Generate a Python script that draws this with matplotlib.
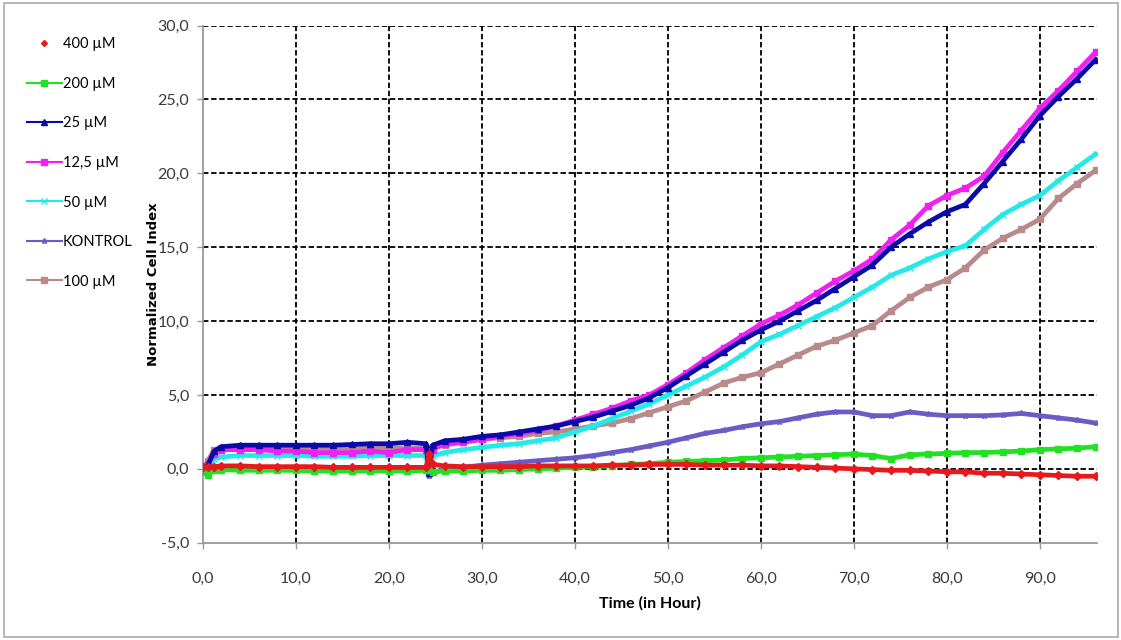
import numpy as np
import matplotlib
matplotlib.use("Agg")
import matplotlib.pyplot as plt
from matplotlib.lines import Line2D
from matplotlib.patches import Rectangle
from matplotlib.ticker import FuncFormatter

plt.rcParams['font.family'] = ['Lato', 'DejaVu Sans']

# time points (hours)
hours = [0, 0.5, 1.2, 2, 4, 6, 8, 10, 12, 14, 16, 18, 20, 22, 24, 24.3, 24.7,
         26, 28, 30, 32, 34, 36, 38, 40, 42, 44, 46, 48, 50, 52, 54, 56, 58, 60,
         62, 64, 66, 68, 70, 72, 74, 76, 78, 80, 82, 84, 86, 88, 90, 92, 94, 96]

uM400 = [0.1, 0.1, 0.15, 0.2, 0.2, 0.15, 0.15, 0.15, 0.15, 0.1, 0.1, 0.1, 0.1, 0.1, 0.1, 1.0, 0.3,
         0.2, 0.15, 0.15, 0.15, 0.15, 0.2, 0.2, 0.2, 0.2, 0.25, 0.25, 0.3, 0.3, 0.3, 0.25, 0.25, 0.25, 0.2,
         0.2, 0.15, 0.1, 0.05, 0.0, -0.05, -0.1, -0.1, -0.15, -0.2, -0.2, -0.3, -0.3, -0.35, -0.4, -0.45, -0.5, -0.5]
uM200 = [0.0, -0.4, -0.1, -0.05, -0.1, -0.1, -0.1, -0.1, -0.15, -0.15, -0.15, -0.15, -0.15, -0.15, -0.1, -0.1, -0.2,
         -0.15, -0.15, -0.1, -0.1, -0.05, 0.0, 0.05, 0.1, 0.15, 0.2, 0.3, 0.35, 0.45, 0.5, 0.55, 0.6, 0.7, 0.75,
         0.8, 0.85, 0.9, 0.95, 1.0, 0.9, 0.7, 0.95, 1.0, 1.05, 1.1, 1.1, 1.15, 1.2, 1.3, 1.35, 1.4, 1.5]
uM25 = [0.0, 0.2, 1.2, 1.5, 1.6, 1.6, 1.6, 1.6, 1.6, 1.6, 1.65, 1.7, 1.7, 1.8, 1.7, -0.3, 1.6,
        1.9, 2.0, 2.2, 2.3, 2.5, 2.7, 2.9, 3.2, 3.5, 3.9, 4.3, 4.8, 5.5, 6.3, 7.1, 7.9, 8.7, 9.4,
        10.0, 10.7, 11.4, 12.2, 13.0, 13.8, 15.0, 15.9, 16.7, 17.4, 17.9, 19.3, 20.8, 22.3, 23.9, 25.2, 26.4, 27.7]
uM12_5 = [0.0, 0.3, 1.0, 1.3, 1.3, 1.3, 1.2, 1.2, 1.1, 1.1, 1.1, 1.2, 1.1, 1.3, 1.3, 0.2, 1.3,
          1.7, 1.8, 2.0, 2.2, 2.4, 2.6, 2.9, 3.3, 3.7, 4.1, 4.6, 5.0, 5.7, 6.5, 7.4, 8.2, 9.0, 9.8,
          10.4, 11.1, 11.9, 12.7, 13.4, 14.2, 15.5, 16.5, 17.8, 18.5, 19.0, 19.8, 21.4, 22.9, 24.4, 25.6, 26.9, 28.2]
uM50 = [0.0, -0.3, 0.7, 0.8, 0.9, 0.9, 0.9, 0.9, 0.85, 0.85, 0.85, 0.9, 0.9, 0.9, 0.9, -0.2, 0.9,
        1.1, 1.3, 1.45, 1.6, 1.7, 1.9, 2.1, 2.5, 2.9, 3.4, 3.9, 4.4, 5.0, 5.6, 6.2, 6.9, 7.7, 8.6,
        9.1, 9.7, 10.3, 10.9, 11.6, 12.3, 13.1, 13.6, 14.2, 14.7, 15.1, 16.2, 17.2, 17.9, 18.5, 19.5, 20.4, 21.3]
kontrol = [0.0, -0.5, 0.0, 0.1, 0.1, 0.1, 0.1, 0.1, 0.1, 0.1, 0.1, 0.1, 0.1, 0.1, 0.1, -0.5, -0.3,
           0.0, 0.1, 0.25, 0.35, 0.45, 0.55, 0.65, 0.75, 0.9, 1.1, 1.3, 1.55, 1.8, 2.1, 2.4, 2.6, 2.85, 3.05,
           3.2, 3.45, 3.7, 3.85, 3.85, 3.6, 3.6, 3.85, 3.7, 3.6, 3.6, 3.6, 3.65, 3.75, 3.6, 3.45, 3.3, 3.1]
uM100 = [0.0, 0.5, 1.3, 1.4, 1.5, 1.5, 1.4, 1.4, 1.4, 1.4, 1.4, 1.4, 1.4, 1.4, 1.4, 0.8, 1.5,
         1.6, 1.8, 2.0, 2.1, 2.2, 2.4, 2.5, 2.7, 2.9, 3.1, 3.4, 3.8, 4.2, 4.6, 5.2, 5.8, 6.2, 6.5,
         7.1, 7.7, 8.3, 8.7, 9.2, 9.7, 10.7, 11.6, 12.3, 12.8, 13.6, 14.8, 15.6, 16.2, 16.9, 18.3, 19.3, 20.2]

labels = ['400 µM', '200 µM', '25 µM', '12,5 µM', '50 µM', 'KONTROL', '100 µM']
series = [uM400, uM200, uM25, uM12_5, uM50, kontrol, uM100]
colors = ['#E8191C', '#22E022', '#0A0AA8', '#F020F0', '#25E8E8', '#6A5CC4', '#B88A8A']
markers = ['D', 's', '^', 's', 'x', '*', 's']
draw_order = [6, 5, 4, 3, 2, 1, 0]  # red on top like the original

fig = plt.figure(figsize=(11.21, 6.4), dpi=100)
ax = fig.add_axes([0.181, 0.152, 0.798, 0.808])

for i in draw_order:
    ax.plot(hours, series[i], color=colors[i], lw=3.4, marker=markers[i],
            ms=4, mec=colors[i], zorder=3 + (7 - i) * 0.1)

ax.set_xlim(0, 96.2)
ax.set_ylim(-5, 30)
ax.set_xticks(np.arange(0, 91, 10))
ax.set_yticks(np.arange(-5, 31, 5))
fmt = FuncFormatter(lambda v, p: f"{v:.1f}".replace('.', ','))
ax.xaxis.set_major_formatter(fmt)
ax.yaxis.set_major_formatter(fmt)
ax.tick_params(labelsize=11.5, colors='#999999', labelcolor='#3a3a3a', length=4, width=1)
ax.tick_params(axis='x', pad=17)
ax.tick_params(axis='y', pad=6)

for x in range(10, 91, 10):
    ax.axvline(x, color='black', ls=(0, (3, 1.5)), lw=1.3, zorder=1)
for y in range(0, 31, 5):
    ax.axhline(y, color='black', ls=(0, (3, 1.5)), lw=1.3, zorder=1)

for s in ['top', 'right']:
    ax.spines[s].set_visible(False)
for s in ['left', 'bottom']:
    ax.spines[s].set_color('#999999')
    ax.spines[s].set_linewidth(1.3)

ax.set_xlabel('Time (in Hour)', fontsize=11.5, fontweight='bold', labelpad=7)
ax.set_ylabel('Normalized Cell Index', fontsize=9.5, fontweight='bold',
              family=['DejaVu Sans'], labelpad=-2)

handles = []
for i in range(7):
    if i == 0:
        handles.append(Line2D([], [], color=colors[i], ls='None', marker='D', ms=3))
    else:
        handles.append(Line2D([], [], color=colors[i], lw=1.5, marker=markers[i], ms=4))
fig.legend(handles, labels, loc='upper left', bbox_to_anchor=(0.012, 0.962),
           frameon=False, fontsize=10.5, labelspacing=1.75, handlelength=2.4,
           handletextpad=0.1)

fig.patches.append(Rectangle((4 / 1121, 3 / 640), 1114 / 1121, 634 / 640,
                             transform=fig.transFigure, fill=False,
                             edgecolor='#AAAAAA', lw=1.2))

fig.savefig('out.png', dpi=100)
